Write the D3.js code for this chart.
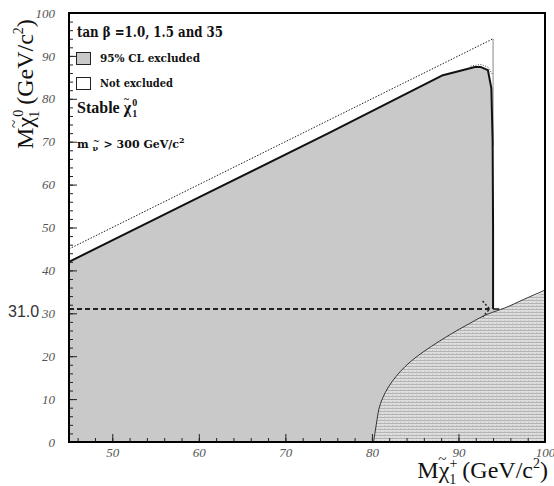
<!DOCTYPE html>
<html>
<head>
<meta charset="utf-8">
<script src="https://cdn.jsdelivr.net/npm/d3@7"></script>
<style>
  html, body { margin: 0; padding: 0; background: #fff; }
  svg { display: block; }
</style>
</head>
<body>
<svg id="chart" width="554" height="486"></svg>
<script>
// Chargino mass (x) vs neutralino mass (y), GeV/c^2
const xDomain = [45, 100];
const yDomain = [0, 100];
const xMajorTicks = [50, 60, 70, 80, 90, 100];
const yMajorTicks = [0, 10, 20, 30, 40, 50, 60, 70, 80, 90, 100];

// Upper edge of the 95% CL excluded region
const excludedEdge = [
  [45, 42.0], [60, 57.0], [75, 72.0], [88.2, 85.5], [91.9, 87.4], [92.6, 87.4],
  [93.4, 86.7], [93.8, 82.5], [93.95, 70.0], [94.0, 50.0], [94.0, 31.0]
];
// Dotted outline of the alternative tan(beta) contour near the peak
const altEdge = [[91.4, 87.6], [92.6, 88.0], [93.4, 87.4], [93.9, 85.8]];
// Kinematic limit M(neutralino) = M(chargino)
const kinLimit = [[45, 45], [94, 94]];
const kinDrop = [[94, 94], [94, 69]];
// Boundary of the inaccessible lower-right corner
const lowerCurve = [
  [80.2, 0], [80.5, 4], [81.0, 9], [82.3, 14], [84.5, 18.8], [87.8, 23.5],
  [91.0, 27.3], [93.5, 29.9], [95.3, 31.2], [97.5, 33.2], [100, 35.4]
];
const limitValue = 31.0;
const limitX = [45, 93.6];

const svg = d3.select("#chart");
const m = { left: 69, right: 545, top: 13, bottom: 442 };
const x = d3.scaleLinear().domain(xDomain).range([m.left, m.right]);
const y = d3.scaleLinear().domain(yDomain).range([m.bottom, m.top]);
const line = d3.line().x(d => x(d[0])).y(d => y(d[1]));
const curveLine = d3.line().x(d => x(d[0])).y(d => y(d[1])).curve(d3.curveMonotoneY);

// Hatch texture
const defs = svg.append("defs");
const pat = defs.append("pattern").attr("id", "hatch").attr("patternUnits", "userSpaceOnUse")
  .attr("width", 4).attr("height", 3);
pat.append("rect").attr("width", 4).attr("height", 3).attr("fill", "#dedede");
pat.append("rect").attr("width", 4).attr("height", 1).attr("fill", "#b4b4b4");
pat.append("rect").attr("x", 0).attr("y", 2).attr("width", 1).attr("height", 1).attr("fill", "#c8c8c8");

defs.append("clipPath").attr("id", "plotclip").append("rect")
  .attr("x", m.left).attr("y", m.top)
  .attr("width", m.right - m.left).attr("height", m.bottom - m.top);

const plot = svg.append("g").attr("clip-path", "url(#plotclip)");

// Excluded region: below the edge and left of the lower curve
const meet = lowerCurve[8];
const lowerBelowLimit = lowerCurve.filter(d => d[1] <= limitValue);
const excludedPoly = [[xDomain[0], 0]].concat(excludedEdge, [meet], lowerBelowLimit.slice().reverse());
plot.append("path").datum(excludedPoly)
  .attr("d", d => line(d) + "Z")
  .attr("fill", "#c9c9c9");

// Inaccessible corner, hatched
plot.append("path").datum(lowerCurve.concat([[100, 0]]))
  .attr("d", d => curveLine(d) + "Z")
  .attr("fill", "url(#hatch)");
plot.append("path").datum(lowerCurve)
  .attr("d", curveLine)
  .attr("fill", "none").attr("stroke", "#333").attr("stroke-width", 1);

// Kinematic limit
plot.append("path").datum(kinLimit).attr("d", line)
  .attr("fill", "none").attr("stroke", "#222").attr("stroke-width", 1)
  .attr("stroke-dasharray", "1.5,1.5");
plot.append("path").datum(kinDrop).attr("d", line)
  .attr("fill", "none").attr("stroke", "#888").attr("stroke-width", 1);

// Excluded edge
plot.append("path").datum(excludedEdge).attr("d", line)
  .attr("fill", "none").attr("stroke", "#111").attr("stroke-width", 2)
  .attr("stroke-linejoin", "round");
plot.append("path").datum(excludedEdge.slice(-1).concat([[meet[0] - 0.6, limitValue]]))
  .attr("d", line).attr("fill", "none").attr("stroke", "#111").attr("stroke-width", 1.5);
plot.append("path").datum(altEdge).attr("d", line)
  .attr("fill", "none").attr("stroke", "#444").attr("stroke-width", 1)
  .attr("stroke-dasharray", "1,1.5");

// Limit line at M = 31.0 with dashed arrow head
plot.append("path").datum(limitX.map(v => [v, limitValue])).attr("d", line)
  .attr("fill", "none").attr("stroke", "#222").attr("stroke-width", 2)
  .attr("stroke-dasharray", "5,3");
const tipX = x(limitX[1]), tipY = y(limitValue);
plot.append("path")
  .attr("d", `M${tipX - 7},${tipY - 8}L${tipX},${tipY}L${tipX - 7},${tipY + 8}`)
  .attr("fill", "none").attr("stroke", "#222").attr("stroke-width", 1.5)
  .attr("stroke-dasharray", "2,2");

// Axes: minor and major ticks pointing inward
const styleTicks = g => {
  g.select(".domain").remove();
  g.selectAll("line").attr("stroke", "#222");
  g.selectAll("text")
    .attr("font-family", "'Liberation Serif', serif")
    .attr("font-style", "italic")
    .attr("font-size", 13)
    .attr("fill", "#555");
};
const xMinor = d3.range(46, 100.1, 2);
const yMinor = d3.range(0, 100.1, 2);
svg.append("g").attr("transform", `translate(0,${m.bottom})`)
  .call(d3.axisBottom(x).tickValues(xMinor).tickSize(-4).tickFormat(""))
  .call(styleTicks);
svg.append("g").attr("transform", `translate(0,${m.bottom})`)
  .call(d3.axisBottom(x).tickValues(xMajorTicks).tickSize(-8).tickPadding(6).tickFormat(d3.format("d")))
  .call(styleTicks);
svg.append("g").attr("transform", `translate(${m.left},0)`)
  .call(d3.axisLeft(y).tickValues(yMinor).tickSize(-4).tickFormat(""))
  .call(styleTicks);
svg.append("g").attr("transform", `translate(${m.left},0)`)
  .call(d3.axisLeft(y).tickValues(yMajorTicks).tickSize(-8).tickPadding(14).tickFormat(d3.format("d")))
  .call(styleTicks);

// Frame
svg.append("rect").attr("x", m.left).attr("y", m.top)
  .attr("width", m.right - m.left).attr("height", m.bottom - m.top)
  .attr("fill", "none").attr("stroke", "#000").attr("stroke-width", 2);

// Legend and annotations
const serif = "'Liberation Serif', 'Times New Roman', serif";
const wide = "'DejaVu Serif', serif";
const L = svg.append("g").attr("font-family", wide).attr("font-weight", "bold").attr("fill", "#111");
L.append("text").attr("x", 77).attr("y", 37).attr("font-size", 14)
  .attr("textLength", 146).attr("lengthAdjust", "spacingAndGlyphs")
  .text("tan β =1.0, 1.5 and 35");
L.append("rect").attr("x", 76.5).attr("y", 52.5).attr("width", 14).attr("height", 12)
  .attr("fill", "#c9c9c9").attr("stroke", "#222");
L.append("text").attr("x", 100).attr("y", 62).attr("font-size", 11)
  .attr("textLength", 100).attr("lengthAdjust", "spacingAndGlyphs")
  .text("95% CL excluded");
L.append("rect").attr("x", 76.5).attr("y", 77.5).attr("width", 14).attr("height", 12)
  .attr("fill", "#fff").attr("stroke", "#222");
L.append("text").attr("x", 100).attr("y", 87).attr("font-size", 11)
  .attr("textLength", 73).attr("lengthAdjust", "spacingAndGlyphs")
  .text("Not excluded");

// "Stable chi~0_1"
const st = L.append("text").attr("x", 77).attr("y", 113).attr("font-size", 16)
  .attr("font-family", serif);
st.append("tspan").text("Stable χ");
st.append("tspan").attr("font-size", 10).attr("dx", -7).attr("dy", -11).text("~");
st.append("tspan").attr("font-size", 10).attr("dx", 3).attr("dy", 4).text("0");
st.append("tspan").attr("font-size", 10).attr("dx", -5).attr("dy", 11).text("1");

// "m nu~ > 300 GeV/c^2"
const mn = L.append("text").attr("x", 77).attr("y", 148).attr("font-size", 11);
mn.append("tspan").text("m ");
mn.append("tspan").attr("font-size", 8).attr("dy", 3).text("ν");
mn.append("tspan").attr("font-size", 8).attr("dx", -5).attr("dy", -7).text("~");
mn.append("tspan").attr("dy", 4).text(" > 300 GeV/c");
mn.append("tspan").attr("font-size", 8).attr("dy", -5).text("2");

// Limit value label
svg.append("text").attr("x", 8).attr("y", y(limitValue) + 8)
  .attr("font-family", "'Liberation Sans', Arial, sans-serif").attr("font-size", 16)
  .attr("fill", "#333").text(limitValue.toFixed(1));

// Axis titles: M chi~ with stacked super/subscripts
function massTitle(sel, sup) {
  sel.append("tspan").text("Mχ");
  sel.append("tspan").attr("font-size", 15).attr("dx", -11).attr("dy", -14).text("~");
  sel.append("tspan").attr("font-size", 14).attr("dx", 3).attr("dy", 4).text(sup);
  sel.append("tspan").attr("font-size", 14).attr("dx", -8).attr("dy", 16).text("1");
  sel.append("tspan").attr("dy", -6).text(" (GeV/c");
  sel.append("tspan").attr("font-size", 14).attr("dy", -10).text("2");
  sel.append("tspan").attr("dy", 10).text(")");
}
const xt = svg.append("text").attr("x", 548).attr("y", 478).attr("text-anchor", "end")
  .attr("font-family", serif).attr("font-size", 24).attr("fill", "#111");
massTitle(xt, "+");

const yt = svg.append("text").attr("transform", "translate(33,84) rotate(-90)")
  .attr("text-anchor", "middle")
  .attr("font-family", serif).attr("font-size", 24).attr("fill", "#111");
massTitle(yt, "0");
</script>
</body>
</html>
